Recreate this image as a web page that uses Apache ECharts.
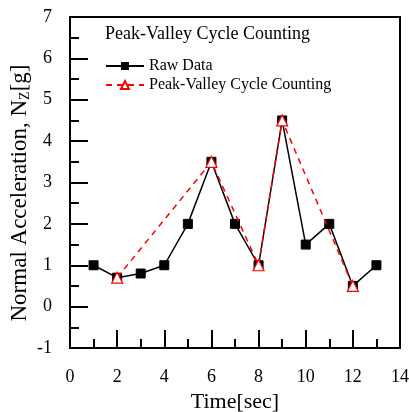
<!DOCTYPE html>
<html><head><meta charset="utf-8">
<script src="https://cdn.jsdelivr.net/npm/echarts@6/dist/echarts.min.js"></script>
<style>html,body{margin:0;padding:0;background:#fff}#c{width:409px;height:412px}</style>
</head><body><div id="c"></div>
<script>
const rawTime = [1,2,3,4,5,6,7,8,9,10,11,12,13];
const rawValues = [1,0.7,0.8,1,2,3.5,2,1,4.5,1.5,2,0.5,1];
const pvTime = [2,6,8,9,12];
const pvValues = [0.7,3.5,1,4.5,0.5];
const xTicks = [0,2,4,6,8,10,12,14];
const yTicks = [-1,0,1,2,3,4,5,6,7];

const F = '"Liberation Serif","Times New Roman",serif';
const chart = echarts.init(document.getElementById('c'), null, {renderer:'canvas'});
const axisCommon = {
  axisLine:{show:true,onZero:false,lineStyle:{color:'#000',width:2}},
  axisTick:{show:true,inside:true,length:18,lineStyle:{color:'#000',width:2}},
  minorTick:{show:true,splitNumber:2,length:9,lineStyle:{color:'#000',width:2}},
  splitLine:{show:false},
  axisLabel:{color:'#000',fontFamily:F,fontSize:18}
};
chart.setOption({
  animation:false,
  backgroundColor:'#fff',
  title:{text:'Peak-Valley Cycle Counting',left:100,top:20,textStyle:{fontFamily:F,fontSize:18,fontWeight:'normal',color:'#000'}},
  legend:{
    orient:'vertical',left:105,top:58,padding:0,itemGap:3,itemWidth:38,itemHeight:10,
    textStyle:{fontFamily:F,fontSize:16,color:'#000'},
    data:['Raw Data','Peak-Valley Cycle Counting']
  },
  graphic:[{
    type:'text',x:8,y:193,rotation:Math.PI/2,
    style:{
      text:'{a|Normal Acceleration, N}{s|Z}{a|[g]}',
      align:'center',verticalAlign:'top',
      rich:{a:{fontFamily:F,fontSize:23,fill:'#000'},s:{fontFamily:F,fontSize:14,fill:'#000',verticalAlign:'bottom',padding:[10,0,0,0]}}
    }
  }],
  grid:{left:70,right:9,top:17,bottom:64,show:true,borderColor:'#000',borderWidth:2,backgroundColor:'transparent',outerBoundsMode:'none',containLabel:false},
  xAxis:Object.assign({},axisCommon,{
    type:'value',min:xTicks[0],max:xTicks[xTicks.length-1],interval:2,
    axisLabel:Object.assign({},axisCommon.axisLabel,{margin:20}),
    name:'Time[sec]',nameLocation:'middle',nameGap:33,
    nameTextStyle:{fontFamily:F,fontSize:22,color:'#000'}
  }),
  yAxis:Object.assign({},axisCommon,{
    type:'value',min:yTicks[0],max:yTicks[yTicks.length-1],interval:1,
    axisLabel:Object.assign({},axisCommon.axisLabel,{margin:18})
  }),
  series:[
    {name:'Raw Data',type:'line',data:rawTime.map((t,i)=>[t,rawValues[i]]),
     symbol:'rect',symbolSize:9,showAllSymbol:true,
     lineStyle:{color:'#000',width:1.5},itemStyle:{color:'#000',borderColor:'#000'},z:2},
    {name:'Peak-Valley Cycle Counting',type:'line',data:pvTime.map((t,i)=>[t,pvValues[i]]),
     symbol:'triangle',symbolSize:11,showAllSymbol:true,
     lineStyle:{color:'#ff0000',width:1.5,type:[6,5]},
     itemStyle:{color:'#fff',borderColor:'#ff0000',borderWidth:1.2},z:3}
  ]
});
</script></body></html>
